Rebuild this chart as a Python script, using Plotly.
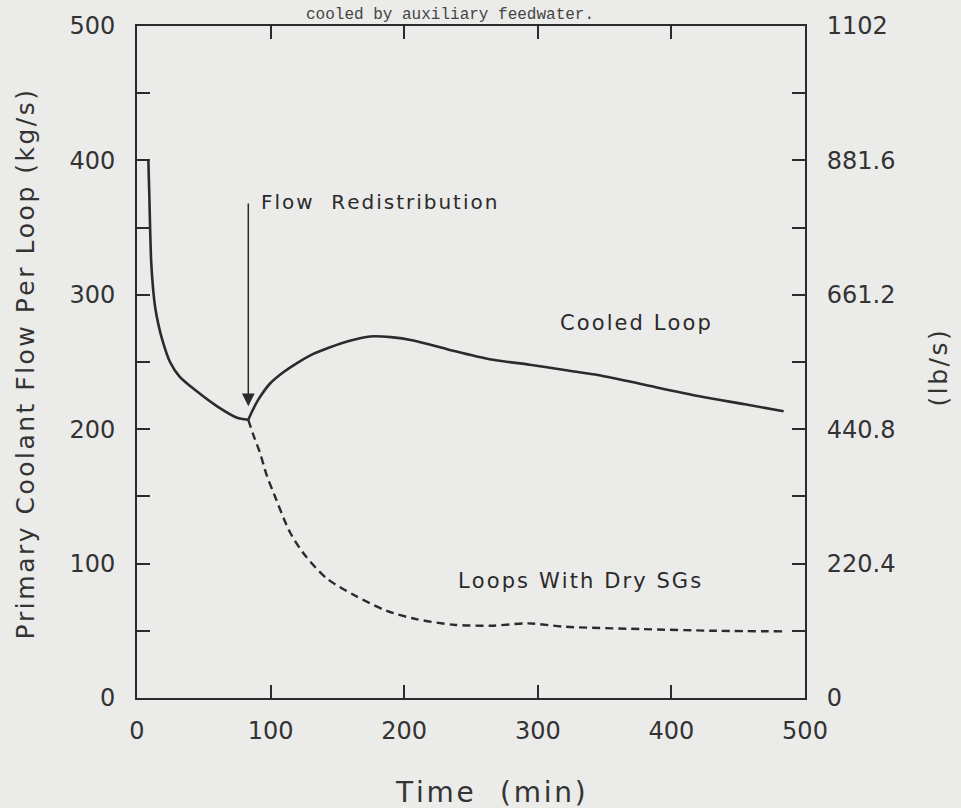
import plotly.graph_objects as go

# Cooled loop (solid): time in min, flow in kg/s
cooled_t = [8.5, 9.2, 9.8, 10.6, 12, 13.7, 16, 18.5, 24.7, 32, 45, 60, 75, 83.3,
            86, 90.8, 99.6, 109, 119.5, 132, 144.5, 160, 174.4, 190, 206.8, 234, 264,
            294, 320, 347, 380, 421, 455, 484]
cooled_v = [400, 375, 350, 325, 305, 290, 278, 268, 250, 239, 228, 217, 208.5, 207,
            213, 222, 234, 242, 249, 256, 261, 266, 269, 268.5, 266, 259, 252,
            248, 244, 240, 233, 224.5, 218.5, 213.3]

# Loops with dry steam generators (dashed)
dry_t = [83.3, 87, 92, 97, 103, 114.3, 125.5, 142, 161.7, 187, 209, 237, 265, 293,
         321, 377, 433, 483]
dry_v = [207, 196, 182.6, 166, 150.7, 123.7, 106.5, 89, 77, 64.8, 58.7, 54.5, 53.8,
         55.5, 53, 51.3, 50, 49.6]

# Axis ticks
x_ticks = [0, 100, 200, 300, 400, 500]
left_ticks = [0, 100, 200, 300, 400, 500]
right_vals = [0, 220.4, 440.8, 661.2, 881.6, 1102]
right_text = ["0", "220.4", "440.8", "661.2", "881.6", "1102"]
right_minor = [110.2, 330.6, 551.0, 771.4, 991.8]

INK = "#2b2b2b"
TXT = "#333333"
BG = "#ebebe9"
FONT = "DejaVu Sans"

# size of the page and of the plotting area, in pixels
W, H = 961, 808
L, R, T, B = 137, 156, 19, 110


def spaced(s):
    """Open up letter spacing with hair spaces, like stencil lettering."""
    return "\u200a".join(s)


# the cooled-loop curve turns sharply at the redistribution point
cusp = cooled_t.index(83.3)

fig = go.Figure()
fig.add_trace(go.Scatter(x=cooled_t[:cusp + 1], y=cooled_v[:cusp + 1], mode="lines",
                         line=dict(color=INK, width=2.6, shape="spline", smoothing=0.6),
                         showlegend=False, hoverinfo="skip"))
fig.add_trace(go.Scatter(x=cooled_t[cusp:], y=cooled_v[cusp:], mode="lines",
                         line=dict(color=INK, width=2.6, shape="spline", smoothing=0.8),
                         showlegend=False, hoverinfo="skip"))
fig.add_trace(go.Scatter(x=dry_t, y=dry_v, mode="lines",
                         line=dict(color=INK, width=2.4, dash="8px,5px", shape="spline",
                                   smoothing=0.8),
                         showlegend=False, hoverinfo="skip"))
# invisible trace that switches on the lb/s axis
fig.add_trace(go.Scatter(x=[0], y=[0], yaxis="y2", mode="markers", marker=dict(opacity=0),
                         showlegend=False, hoverinfo="skip"))

axis_common = dict(showline=True, linecolor=INK, linewidth=2, showgrid=False, zeroline=False,
                   ticks="inside", ticklen=13, tickwidth=1.5, tickcolor=INK,
                   tickfont=dict(family=FONT, size=24, color=TXT))
minor_common = dict(ticks="inside", ticklen=13, tickcolor=INK, tickwidth=1.5)

fig.update_layout(
    width=W, height=H,
    paper_bgcolor=BG, plot_bgcolor=BG,
    margin=dict(l=L, r=R, t=T, b=B),
    xaxis=dict(range=[0, 500], tickvals=x_ticks, mirror="ticks", ticklabelstandoff=10,
               **axis_common),
    yaxis=dict(range=[0, 500], tickvals=left_ticks, ticklabelstandoff=15,
               minor=dict(dtick=50, **minor_common), **axis_common),
    yaxis2=dict(range=[0, 1102], overlaying="y", side="right", tickvals=right_vals,
                ticktext=right_text, ticklabelstandoff=15,
                minor=dict(tickvals=right_minor, **minor_common), **axis_common),
    showlegend=False,
)

# arrow marking the flow redistribution
fig.add_annotation(x=83.3, y=217, ax=83.3, ay=369, xref="x", yref="y", axref="x", ayref="y",
                   showarrow=True, arrowhead=2, arrowsize=1.7, arrowwidth=1.5,
                   arrowcolor=INK, text="")

curve_font = dict(family=FONT, size=21, color="#2a2a2a")
fig.add_annotation(x=91, y=369, xref="x", yref="y", text=spaced("Flow  Redistribution"),
                   showarrow=False, xanchor="left", yanchor="middle",
                   font=dict(family=FONT, size=20, color="#2a2a2a"))
fig.add_annotation(x=373, y=279, xref="x", yref="y", text=spaced("Cooled Loop"),
                   showarrow=False, font=curve_font)
fig.add_annotation(x=331, y=87, xref="x", yref="y", text=spaced("Loops With Dry SGs"),
                   showarrow=False, font=curve_font)

pw, ph = W - L - R, H - T - B


def to_paper(px, py):
    return (px - L) / pw, (H - B - py) / ph


def page_text(px, py, text, size, angle=0, family=FONT, color=TXT):
    xp, yp = to_paper(px, py)
    fig.add_annotation(x=xp, y=yp, xref="paper", yref="paper", text=text, showarrow=False,
                       textangle=angle, xanchor="center", yanchor="middle",
                       font=dict(family=family, size=size, color=color))


# axis titles and caption line
page_text(25, 362, spaced("Primary Coolant Flow Per Loop (kg/s)"), 25, angle=-90)
page_text(938, 365, spaced("(lb/s)"), 25, angle=-90)
page_text(490, 793, spaced("Time  (min)"), 28)
page_text(450, 8, "cooled by auxiliary feedwater.", 16, family="Liberation Mono",
          color="#444444")

fig.write_html("out.html")
